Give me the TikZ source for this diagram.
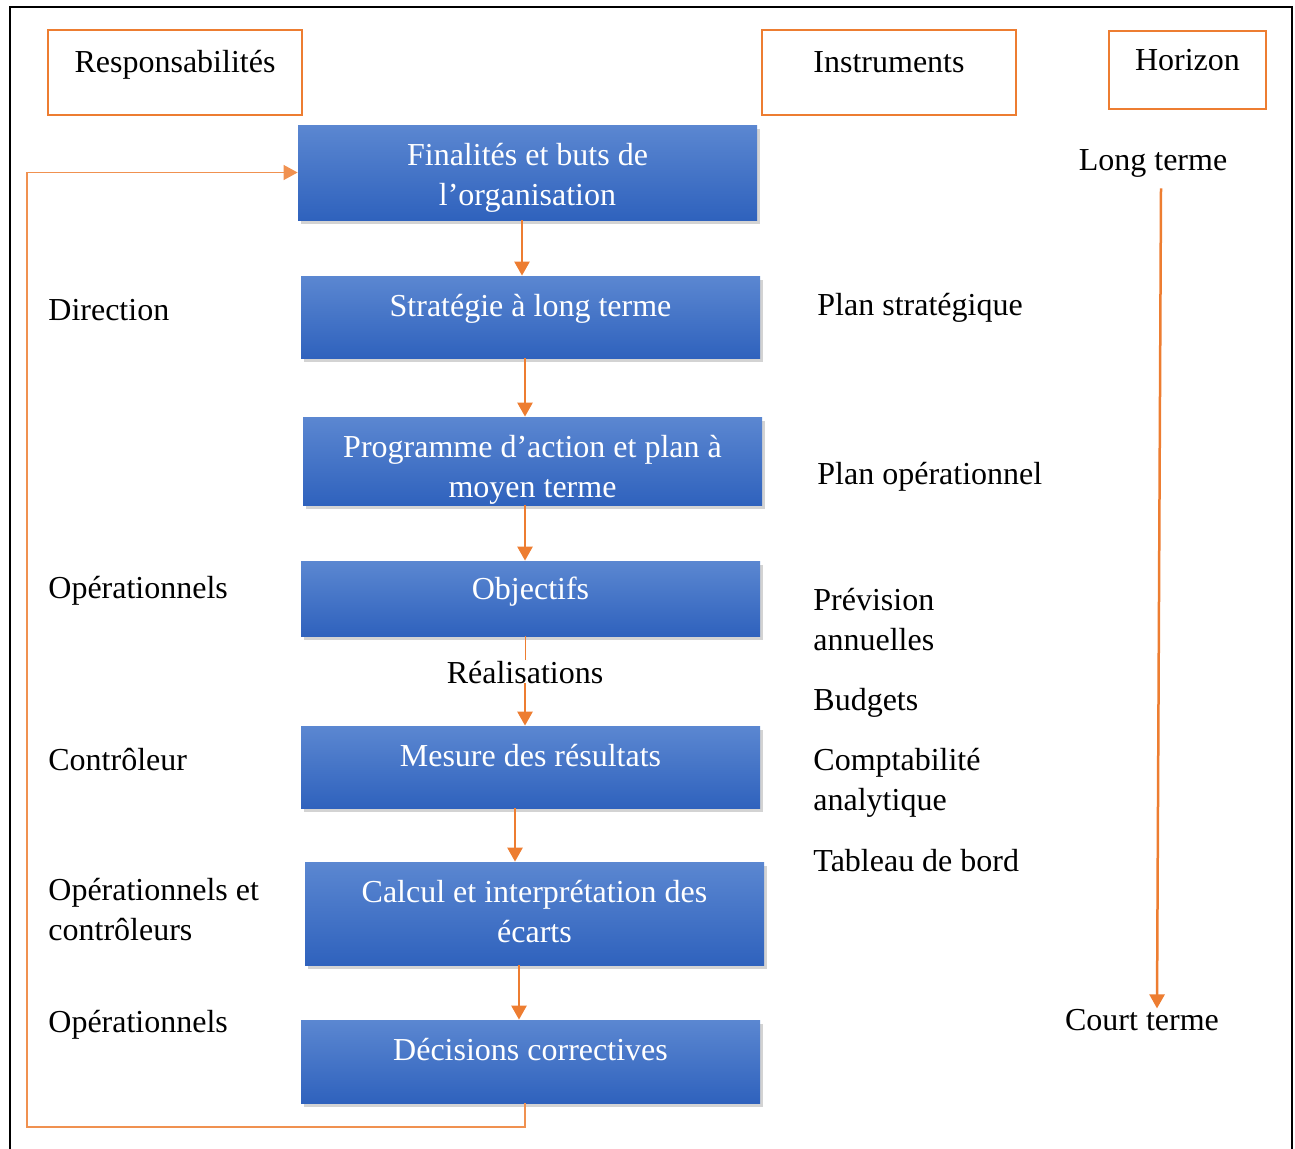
\documentclass[tikz,border=0pt]{standalone}
\usepackage{fontspec}
\setmainfont{Liberation Serif}
\usetikzlibrary{positioning,arrows.meta,shadows}
\definecolor{pilotorange}{HTML}{ED7D31}
\definecolor{pilotbluetop}{HTML}{5B87D1}
\definecolor{pilotbluebot}{HTML}{2F62BD}

\begin{document}
\begin{tikzpicture}[x=0.5pt,y=-0.5pt,
  font=\fontsize{16}{20}\selectfont,
  hdr/.style={draw=pilotorange,line width=1pt,minimum width=127pt,minimum height=42.5pt,
              text height=8pt,text depth=8pt,inner sep=0pt},
  blk/.style={top color=pilotbluetop,bottom color=pilotbluebot,minimum width=229.5pt,inner sep=0pt,
              drop shadow={shadow xshift=1.5pt,shadow yshift=-2pt,opacity=0.35}},
  blktxt/.style={text=white,align=center,inner sep=0pt,execute at begin node=\strut},
  lbl/.style={anchor=north west,align=left,inner sep=0pt,yshift=-1pt,execute at begin node=\strut},
  twolines/.style={yshift=-3pt},
  arr/.style={-{Triangle[width=7.5pt,length=7pt]},pilotorange,line width=1.25pt},
  fb/.style={pilotorange!85,line width=0.6pt}
]
\useasboundingbox (0,0) rectangle (1295,1148);
\draw[line width=1pt] (10,7) rectangle (1292,1170);

% column headers
\node[hdr] (resp) at (175,72.5) {Responsabilités};
\node[hdr] (instr) at (889,72.5) {Instruments};
\node[hdr,minimum width=78.5pt,minimum height=39pt] (horiz) at (1187.5,70) {Horizon};

% the control chain
\node[blk,minimum height=47.5pt] (fin) at (527.5,172.5) {};
\node[blktxt,twolines,below=6pt of fin.north] (fin-t) {Finalités et buts de\\l’organisation};
\node[blk,minimum height=41pt] (strat) at (530.5,317) {};
\node[blktxt,below=6pt of strat.north] (strat-t) {Stratégie à long terme};
\node[blk,minimum height=44pt] (prog) at (532.5,461) {};
\node[blktxt,twolines,below=6pt of prog.north] (prog-t) {Programme d’action et plan à\\moyen terme};
\node[blk,minimum height=37.5pt] (obj) at (530.5,598.5) {};
\node[blktxt,below=5pt of obj.north] (obj-t) {Objectifs};
\node[blk,minimum height=41pt] (mes) at (530.5,767) {};
\node[blktxt,below=6pt of mes.north] (mes-t) {Mesure des résultats};
\node[blk,minimum height=51.5pt] (calc) at (534.5,913.5) {};
\node[blktxt,twolines,below=6pt of calc.north] (calc-t) {Calcul et interprétation des\\écarts};
\node[blk,minimum height=41.5pt] (dec) at (530.5,1061.5) {};
\node[blktxt,below=6pt of dec.north] (dec-t) {Décisions correctives};

% responsabilities
\node[lbl] (dir) at (48,290) {Direction};
\node[lbl] (opA) at (48,568) {Opérationnels};
\node[lbl] (ctrl) at (48,740) {Contrôleur};
\node[lbl,twolines] (opctrl) at (48,870) {Opérationnels et\\contrôleurs};
\node[lbl] (opB) at (48,1002) {Opérationnels};

% instruments
\node[lbl] (ps) at (817,285) {Plan stratégique};
\node[lbl] (po) at (817,454) {Plan opérationnel};
\node[lbl,twolines] (prev) at (813,580) {Prévision\\annuelles};
\node[lbl] (budg) at (813,680) {Budgets};
\node[lbl,twolines] (compta) at (813,740) {Comptabilité\\analytique};
\node[lbl] (tdb) at (813,841) {Tableau de bord};

% horizon
\node[anchor=base,inner sep=0pt] (longt) at (1153,170) {Long terme};
\node[anchor=base,inner sep=0pt] (courtt) at (1142,1030) {Court terme};
\draw[arr] ([xshift=4pt,yshift=-5.5pt]longt.south) -- ([xshift=7.5pt]courtt.north);

% chain arrows
\draw[arr] ([xshift=-2.75pt]fin.south) -- ([xshift=-4.25pt]strat.north);
\draw[arr] ([xshift=-2.75pt]strat.south) -- ([xshift=-3.75pt]prog.north);
\draw[arr] ([xshift=-3.75pt]prog.south) -- ([xshift=-2.75pt]obj.north);
\node[anchor=base,inner sep=0pt] (real) at (525,683) {Réalisations};
\draw[pilotorange,line width=0.5pt] ([xshift=-2.75pt]obj.south) -- (real.north);
\draw[arr] (real.base) -- ([xshift=-2.75pt]mes.north);
\draw[arr] ([xshift=-7.75pt]mes.south) -- ([xshift=-9.75pt]calc.north);
\draw[arr] ([xshift=-7.75pt]calc.south) -- ([xshift=-5.75pt]dec.north);

% feedback loop
\coordinate (loopL) at (27,1127);
\draw[fb,-{Triangle[width=7.5pt,length=7pt]}] ([xshift=-2.75pt]dec.south) |- (loopL) |- (fin.west);
\end{tikzpicture}
\end{document}
